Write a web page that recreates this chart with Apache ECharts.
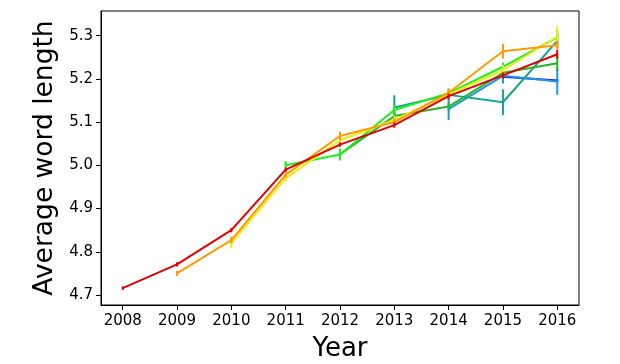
<!DOCTYPE html>
<html>
<head>
<meta charset="utf-8">
<script src="https://cdn.jsdelivr.net/npm/echarts@6/dist/echarts.min.js"></script>
<style>html,body{margin:0;padding:0;background:#fff}#c{width:620px;height:364px}</style>
</head>
<body>
<div id="c"></div>
<script>
const years = [2008, 2009, 2010, 2011, 2012, 2013, 2014, 2015, 2016];
const yTicks = [4.7, 4.8, 4.9, 5.0, 5.1, 5.2, 5.3];
const cohortNames = ['2015', '2014', '2013', '2012', '2011', '2010', '2009', '2008'];
const cohortColors = ['#1010dc', '#1e96e6', '#14a58c', '#28b428', '#1ef01e', '#ecec14', '#ff9a00', '#e00000'];
// values per cohort, starting at the cohort's first year
const blueVals = [5.205, 5.196];
const blueErr = [0.004, 0.004];
const lightBlueVals = [5.130, 5.207, 5.194];
const lightBlueErr = [0.025, 0.018, 0.031];
const tealVals = [5.134, 5.163, 5.146, 5.288];
const tealErr = [0.028, 0.012, 0.030, 0.018];
const darkGreenVals = [5.025, 5.114, 5.136, 5.214, 5.236];
const darkGreenErr = [0.012, 0.010, 0.010, 0.010, 0.018];
const limeVals = [5.000, 5.025, 5.128, 5.167, 5.228, 5.296];
const limeErr = [0.010, 0.014, 0.010, 0.010, 0.010, 0.018];
const yellowVals = [4.820, 4.970, 5.058, 5.105, 5.164, 5.220, 5.298];
const yellowErr = [0.012, 0.008, 0.008, 0.010, 0.010, 0.012, 0.025];
const orangeVals = [4.750, 4.827, 4.978, 5.068, 5.100, 5.168, 5.264, 5.278];
const orangeErr = [0.006, 0.008, 0.007, 0.010, 0.008, 0.010, 0.017, 0.010];
const redVals = [4.716, 4.771, 4.850, 4.990, 5.048, 5.093, 5.160, 5.208, 5.257];
const redErr = [0.004, 0.005, 0.005, 0.005, 0.005, 0.006, 0.006, 0.007, 0.010];

const allVals = [blueVals, lightBlueVals, tealVals, darkGreenVals, limeVals, yellowVals, orangeVals, redVals];
const allErrs = [blueErr, lightBlueErr, tealErr, darkGreenErr, limeErr, yellowErr, orangeErr, redErr];

const series = [];
allVals.forEach(function (vals, i) {
  const offset = years.length - vals.length;
  const pts = vals.map(function (v, k) { return [years[offset + k], v]; });
  const bars = vals.map(function (v, k) { return [years[offset + k], v - allErrs[i][k], v + allErrs[i][k]]; });
  const color = cohortColors[i];
  series.push({
    type: 'custom',
    name: cohortNames[i] + ' err',
    data: bars,
    z: 2 + i * 2,
    silent: true,
    renderItem: function (params, api) {
      const x = api.value(0);
      const a = api.coord([x, api.value(1)]);
      const b = api.coord([x, api.value(2)]);
      return {
        type: 'line',
        shape: { x1: a[0], y1: a[1], x2: b[0], y2: b[1] },
        style: { stroke: color, lineWidth: 2 }
      };
    }
  });
  series.push({
    type: 'line',
    name: cohortNames[i],
    data: pts,
    z: 3 + i * 2,
    symbol: 'none',
    lineStyle: { color: color, width: 2 },
    itemStyle: { color: color },
    animation: false
  });
});

const chart = echarts.init(document.getElementById('c'), null, { renderer: 'canvas' });
chart.setOption({
  animation: false,
  backgroundColor: '#fff',
  textStyle: { fontFamily: 'DejaVu Sans' },
  grid: { left: 101, right: 41, top: 11, bottom: 59, containLabel: false, outerBoundsMode: 'none', show: true, borderColor: '#000', borderWidth: 1, backgroundColor: 'transparent' },
  xAxis: {
    type: 'value',
    min: 2007.6,
    max: 2016.4,
    name: 'Year',
    nameLocation: 'middle',
    nameGap: 31,
    nameTextStyle: { fontSize: 26, color: '#000', fontFamily: 'DejaVu Sans' },
    axisLine: { show: true, lineStyle: { color: '#000', width: 1 } },
    axisTick: { show: true, length: 5, lineStyle: { color: '#000' }, customValues: years },
    axisLabel: { fontSize: 15, color: '#000', margin: 9, customValues: years, formatter: function (v) { return String(Math.round(v)); } },
    splitLine: { show: false }
  },
  yAxis: {
    type: 'value',
    min: 4.677,
    max: 5.357,
    name: 'Average word length',
    nameLocation: 'middle',
    nameGap: 41,
    nameRotate: 90,
    nameTextStyle: { fontSize: 26.5, color: '#000', fontFamily: 'DejaVu Sans' },
    axisLine: { show: true, lineStyle: { color: '#000', width: 1 } },
    axisTick: { show: true, length: 5, lineStyle: { color: '#000' }, customValues: yTicks },
    axisLabel: { fontSize: 15, color: '#000', margin: 8, customValues: yTicks, formatter: function (v) { return v.toFixed(1); } },
    splitLine: { show: false }
  },
  series: series
});
</script>
</body>
</html>
